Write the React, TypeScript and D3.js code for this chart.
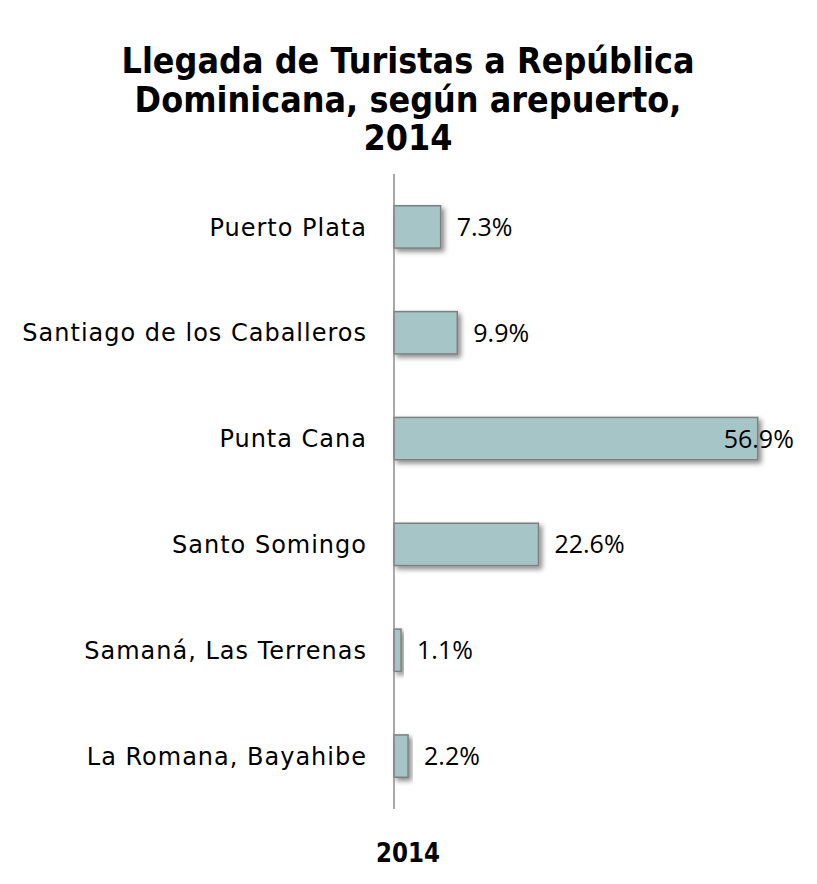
import { useRef, useEffect } from "react";
import * as d3 from "d3";

const airports = [
  "Puerto Plata",
  "Santiago de los Caballeros",
  "Punta Cana",
  "Santo Somingo",
  "Samaná, Las Terrenas",
  "La Romana, Bayahibe",
];
const shares = [7.3, 9.9, 56.9, 22.6, 1.1, 2.2];
const titleLines = [
  "Llegada de Turistas a República",
  "Dominicana, según arepuerto,",
  "2014",
];
const axisTitle = "2014";

const width = 817;
const height = 884;

export default function App() {
  const ref = useRef<SVGSVGElement>(null);

  useEffect(() => {
    const svg = d3.select(ref.current).select(".chart-area");
    svg.selectAll("*").remove();

    const x = d3.scaleLinear().domain([0, 56.9]).range([394, 757.7]);
    const y = d3.scaleBand().domain(airports).range([174, 809]).paddingInner(0.6).paddingOuter(0.3);

    const defs = svg.append("defs");
    const filter = defs.append("filter").attr("id", "shadow").attr("x", "-20%").attr("y", "-30%").attr("width", "150%").attr("height", "180%");
    filter.append("feDropShadow")
      .attr("dx", 3)
      .attr("dy", 3)
      .attr("stdDeviation", 2.5)
      .attr("flood-color", "#000")
      .attr("flood-opacity", 0.45);

    const rows = airports.map((name, i) => ({ name, value: shares[i] }));

    svg.selectAll(".bar")
      .data(rows)
      .join("rect")
      .attr("class", "bar")
      .attr("x", x(0))
      .attr("y", (d) => y(d.name)!)
      .attr("width", (d) => x(d.value) - x(0))
      .attr("height", y.bandwidth())
      .attr("fill", "#a5c5c7")
      .attr("stroke", "#7f7f7f")
      .attr("stroke-width", 1.5)
      .attr("filter", "url(#shadow)");

    svg.append("line")
      .attr("x1", x(0))
      .attr("x2", x(0))
      .attr("y1", 174)
      .attr("y2", 809)
      .attr("stroke", "#8c8c8c")
      .attr("stroke-width", 1.5);

    svg.selectAll(".cat")
      .data(rows)
      .join("text")
      .attr("class", "cat")
      .attr("x", 367)
      .attr("y", (d) => y(d.name)! + y.bandwidth() / 2)
      .attr("dy", "0.36em")
      .attr("text-anchor", "end")
      .attr("font-family", "'DejaVu Sans', sans-serif")
      .attr("font-size", 24)
      .attr("letter-spacing", 1)
      .attr("fill", "#000")
      .text((d) => d.name);

    svg.selectAll(".val")
      .data(rows)
      .join("text")
      .attr("class", "val")
      .attr("x", (d) => (d.value > 50 ? x(d.value) - 34 : x(d.value) + 16))
      .attr("y", (d) => y(d.name)! + y.bandwidth() / 2)
      .attr("dy", "0.36em")
      .attr("font-family", "'Open Sans', 'Noto Sans', sans-serif")
      .attr("font-size", 25)
      .attr("fill", "#000")
      .text((d) => `${d.value.toFixed(1)}%`);

    // title, stretched a little vertically to mimic the tall display face
    svg.selectAll(".title")
      .data(titleLines)
      .join("text")
      .attr("class", "title")
      .attr("transform", (_, i) => `translate(408,${73 + i * 38.5}) scale(1,1.12)`)
      .attr("text-anchor", "middle")
      .attr("font-family", "'DejaVu Sans', sans-serif")
      .attr("font-weight", "bold")
      .attr("font-size", 32)
      .attr("fill", "#000")
      .text((d) => d);

    svg.append("text")
      .attr("transform", "translate(408,862) scale(1,1.12)")
      .attr("text-anchor", "middle")
      .attr("font-family", "'DejaVu Sans', sans-serif")
      .attr("font-weight", "bold")
      .attr("font-size", 23)
      .attr("fill", "#000")
      .text(axisTitle);
  }, []);

  return (
    <svg
      ref={ref}
      width={width}
      height={height}
      style={{ position: "absolute", left: 0, top: 0, background: "white" }}
    >
      <g className="chart-area" />
    </svg>
  );
}
